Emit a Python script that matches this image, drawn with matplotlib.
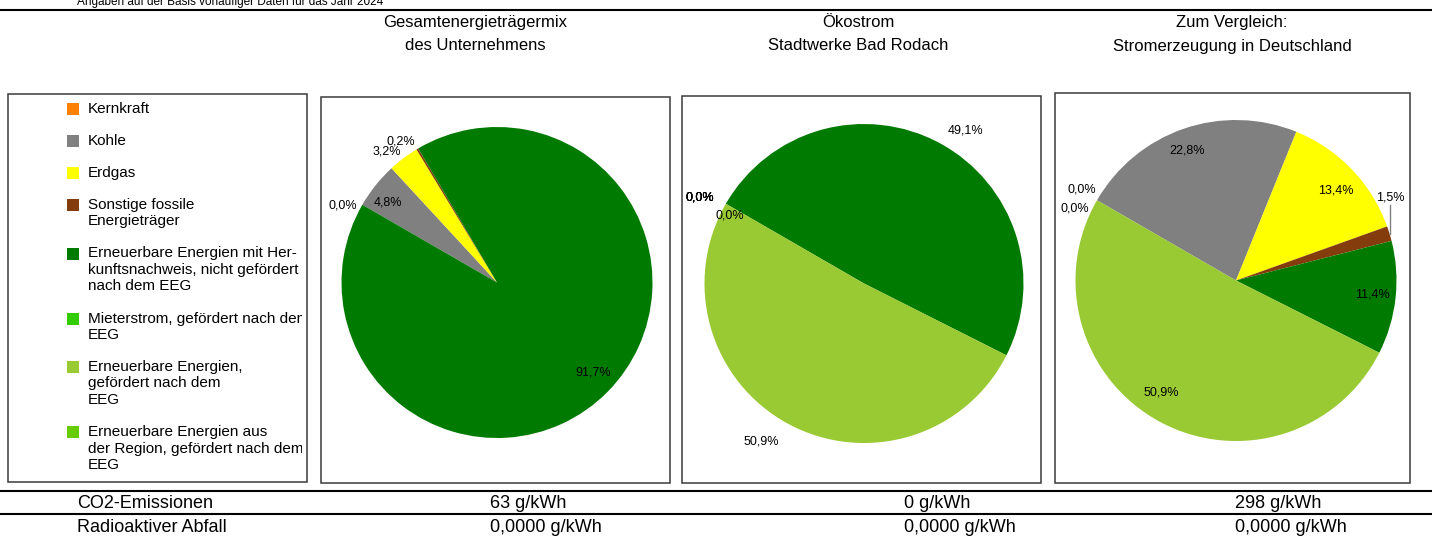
"""
Stromkennzeichnung: Energieträgermix als drei Kreisdiagramme mit Legende
und Tabelle für CO2-Emissionen und radioaktiven Abfall.
"""

import numpy as np
import matplotlib
matplotlib.use('Agg')
import matplotlib.pyplot as plt
from matplotlib.patches import Rectangle

plt.rcParams['font.family'] = ['Liberation Sans', 'DejaVu Sans']

W, H = 1432, 536

# --- Daten ---
categories = [
    'Kernkraft',
    'Kohle',
    'Erdgas',
    'Sonstige fossile\nEnergieträger',
    'Erneuerbare Energien mit Her-\nkunftsnachweis, nicht gefördert\nnach dem EEG',
    'Mieterstrom, gefördert nach dem\nEEG',
    'Erneuerbare Energien,\ngefördert nach dem\nEEG',
    'Erneuerbare Energien aus\nder Region, gefördert nach dem\nEEG',
]
colors = ['#FF8000', '#808080', '#FFFF00', '#843C0C',
          '#007A00', '#33CC00', '#99C933', '#66CC00']

titles = ['Gesamtenergieträgermix\ndes Unternehmens',
          'Ökostrom\nStadtwerke Bad Rodach',
          'Zum Vergleich:\nStromerzeugung in Deutschland']

mix_unternehmen = [0.0, 4.8, 3.2, 0.2, 91.7, 0.0, 0.0, 0.0]
mix_oekostrom = [0.0, 0.0, 0.0, 0.0, 49.1, 0.0, 50.9, 0.0]
mix_deutschland = [0.0, 22.8, 13.4, 1.5, 11.4, 0.0, 50.9, 0.0]

row_labels = ['CO2-Emissionen', 'Radioaktiver Abfall']
co2_werte = [63, 0, 298]
abfall_werte = [0.0, 0.0, 0.0]

note = 'Angaben auf der Basis vorläufiger Daten für das Jahr 2024'

# --- Layout (Pixel) ---
panels = [
    dict(box=(321, 97, 670, 483), center=(497, 282.5), r=155.5, title_x=475),
    dict(box=(682, 96, 1041, 483), center=(864, 283.5), r=159.5, title_x=858),
    dict(box=(1055, 93, 1410, 483), center=(1236, 280.5), r=160.5, title_x=1232),
]
# (Abstand in Radien, Winkelversatz) je Beschriftung, None = ausgeblendet
label_styles = [
    [(1.11, 3.6), (0.87, 2.2), (1.10, 3.3), (1.10, 3.5), (0.85, 1.6), None, None, None],
    [(1.16, 2.4), (1.16, 2.4), (1.16, 2.4), (1.16, 2.4), (1.155, -5.2), None, (1.18, -4.6), (0.94, 3.1)],
    [(1.115, -0.4), (0.864, 1.8), (0.84, -1.7), (1.09, 11.4), (0.857, 0.2), None, (0.84, -5.1), (1.10, 5.9)],
]
leaders = {(2, 3)}


def fy(py):
    """Pixel-y (von oben) in Achsen-y (von unten)."""
    return H - py


def fmt_pct(v):
    return f'{v:.1f}'.replace('.', ',') + '%'


def draw_box(ax, box):
    x0, y0, x1, y1 = box
    ax.add_patch(Rectangle((x0, fy(y1)), x1 - x0, y1 - y0, fill=False,
                           edgecolor='#3a3a3a', linewidth=1.1))


def draw_pie(ax, idx, values, panel):
    cx, cy = panel['center']
    r = panel['r']
    ax.pie(values, colors=colors, startangle=150, counterclock=False,
           center=(cx, fy(cy)), radius=r, frame=True,
           wedgeprops=dict(linewidth=0, edgecolor='none'))

    fr = np.array(values) / np.sum(values)
    ends = 150 - 360 * np.cumsum(fr)
    starts = ends + 360 * fr
    mids = (starts + ends) / 2

    for i, v in enumerate(values):
        style = label_styles[idx][i]
        if style is None:
            continue
        dist, off = style
        a = np.radians(mids[i] + off)
        tx = cx + dist * r * np.cos(a)
        ty = fy(cy) + dist * r * np.sin(a)
        ax.text(tx, ty, fmt_pct(v), ha='center', va='center', fontsize=9)
        if (idx, i) in leaders:
            am = np.radians(mids[i])
            ex = cx + r * np.cos(am)
            ey = fy(cy) + r * np.sin(am)
            ax.plot([ex, ex], [ey, ty - 8], color='#808080', linewidth=1)


def draw_legend(ax):
    box = (8, 94, 307, 482)
    draw_box(ax, box)
    clip = Rectangle((8, fy(482)), 294, 388, transform=ax.transData,
                     fill=False, edgecolor='none')
    ax.add_patch(clip)
    y = 109
    for name, col in zip(categories, colors):
        lines = name.split('\n')
        ax.add_patch(Rectangle((67, fy(y + 6)), 12, 12, facecolor=col,
                               edgecolor='none'))
        for k, line in enumerate(lines):
            t = ax.text(88, fy(y + k * 16.5), line, ha='left', va='center',
                        fontsize=11, clip_on=True)
            t.set_clip_path(clip)
        y += 32 + 16.5 * (len(lines) - 1)


if __name__ == '__main__':
    fig = plt.figure(figsize=(W / 100, H / 100), dpi=100)
    ax = fig.add_axes([0, 0, 1, 1])

    # Kopfzeile
    ax.text(77, fy(5), note, ha='left', va='baseline', fontsize=8.5)
    ax.plot([0, W], [fy(10), fy(10)], color='black', linewidth=1.5)

    for idx, (panel, values) in enumerate(zip(panels, [mix_unternehmen, mix_oekostrom, mix_deutschland])):
        l1, l2 = titles[idx].split('\n')
        ax.text(panel['title_x'], fy(22.5), l1, ha='center', va='center', fontsize=12)
        ax.text(panel['title_x'], fy(46), l2, ha='center', va='center', fontsize=12)
        draw_box(ax, panel['box'])
        draw_pie(ax, idx, values, panel)

    draw_legend(ax)

    # Tabelle unten
    ax.plot([0, W], [fy(490.5), fy(490.5)], color='black', linewidth=1.5)
    ax.plot([0, W], [fy(513.5), fy(513.5)], color='black', linewidth=1.5)
    value_x = [490, 904, 1235]
    ax.text(77, fy(504), row_labels[0], ha='left', va='center', fontsize=13)
    ax.text(77, fy(528), row_labels[1], ha='left', va='center', fontsize=13)
    for x, c, a in zip(value_x, co2_werte, abfall_werte):
        ax.text(x, fy(504), f'{c} g/kWh', ha='left', va='center', fontsize=13)
        ax.text(x, fy(528), f'{a:.4f}'.replace('.', ',') + ' g/kWh',
                ha='left', va='center', fontsize=13)

    ax.set_aspect('auto')
    ax.set_autoscale_on(False)
    ax.set_xlim(0, W)
    ax.set_ylim(0, H)
    ax.axis('off')

    fig.savefig('out.png', dpi=100)
    plt.close(fig)
